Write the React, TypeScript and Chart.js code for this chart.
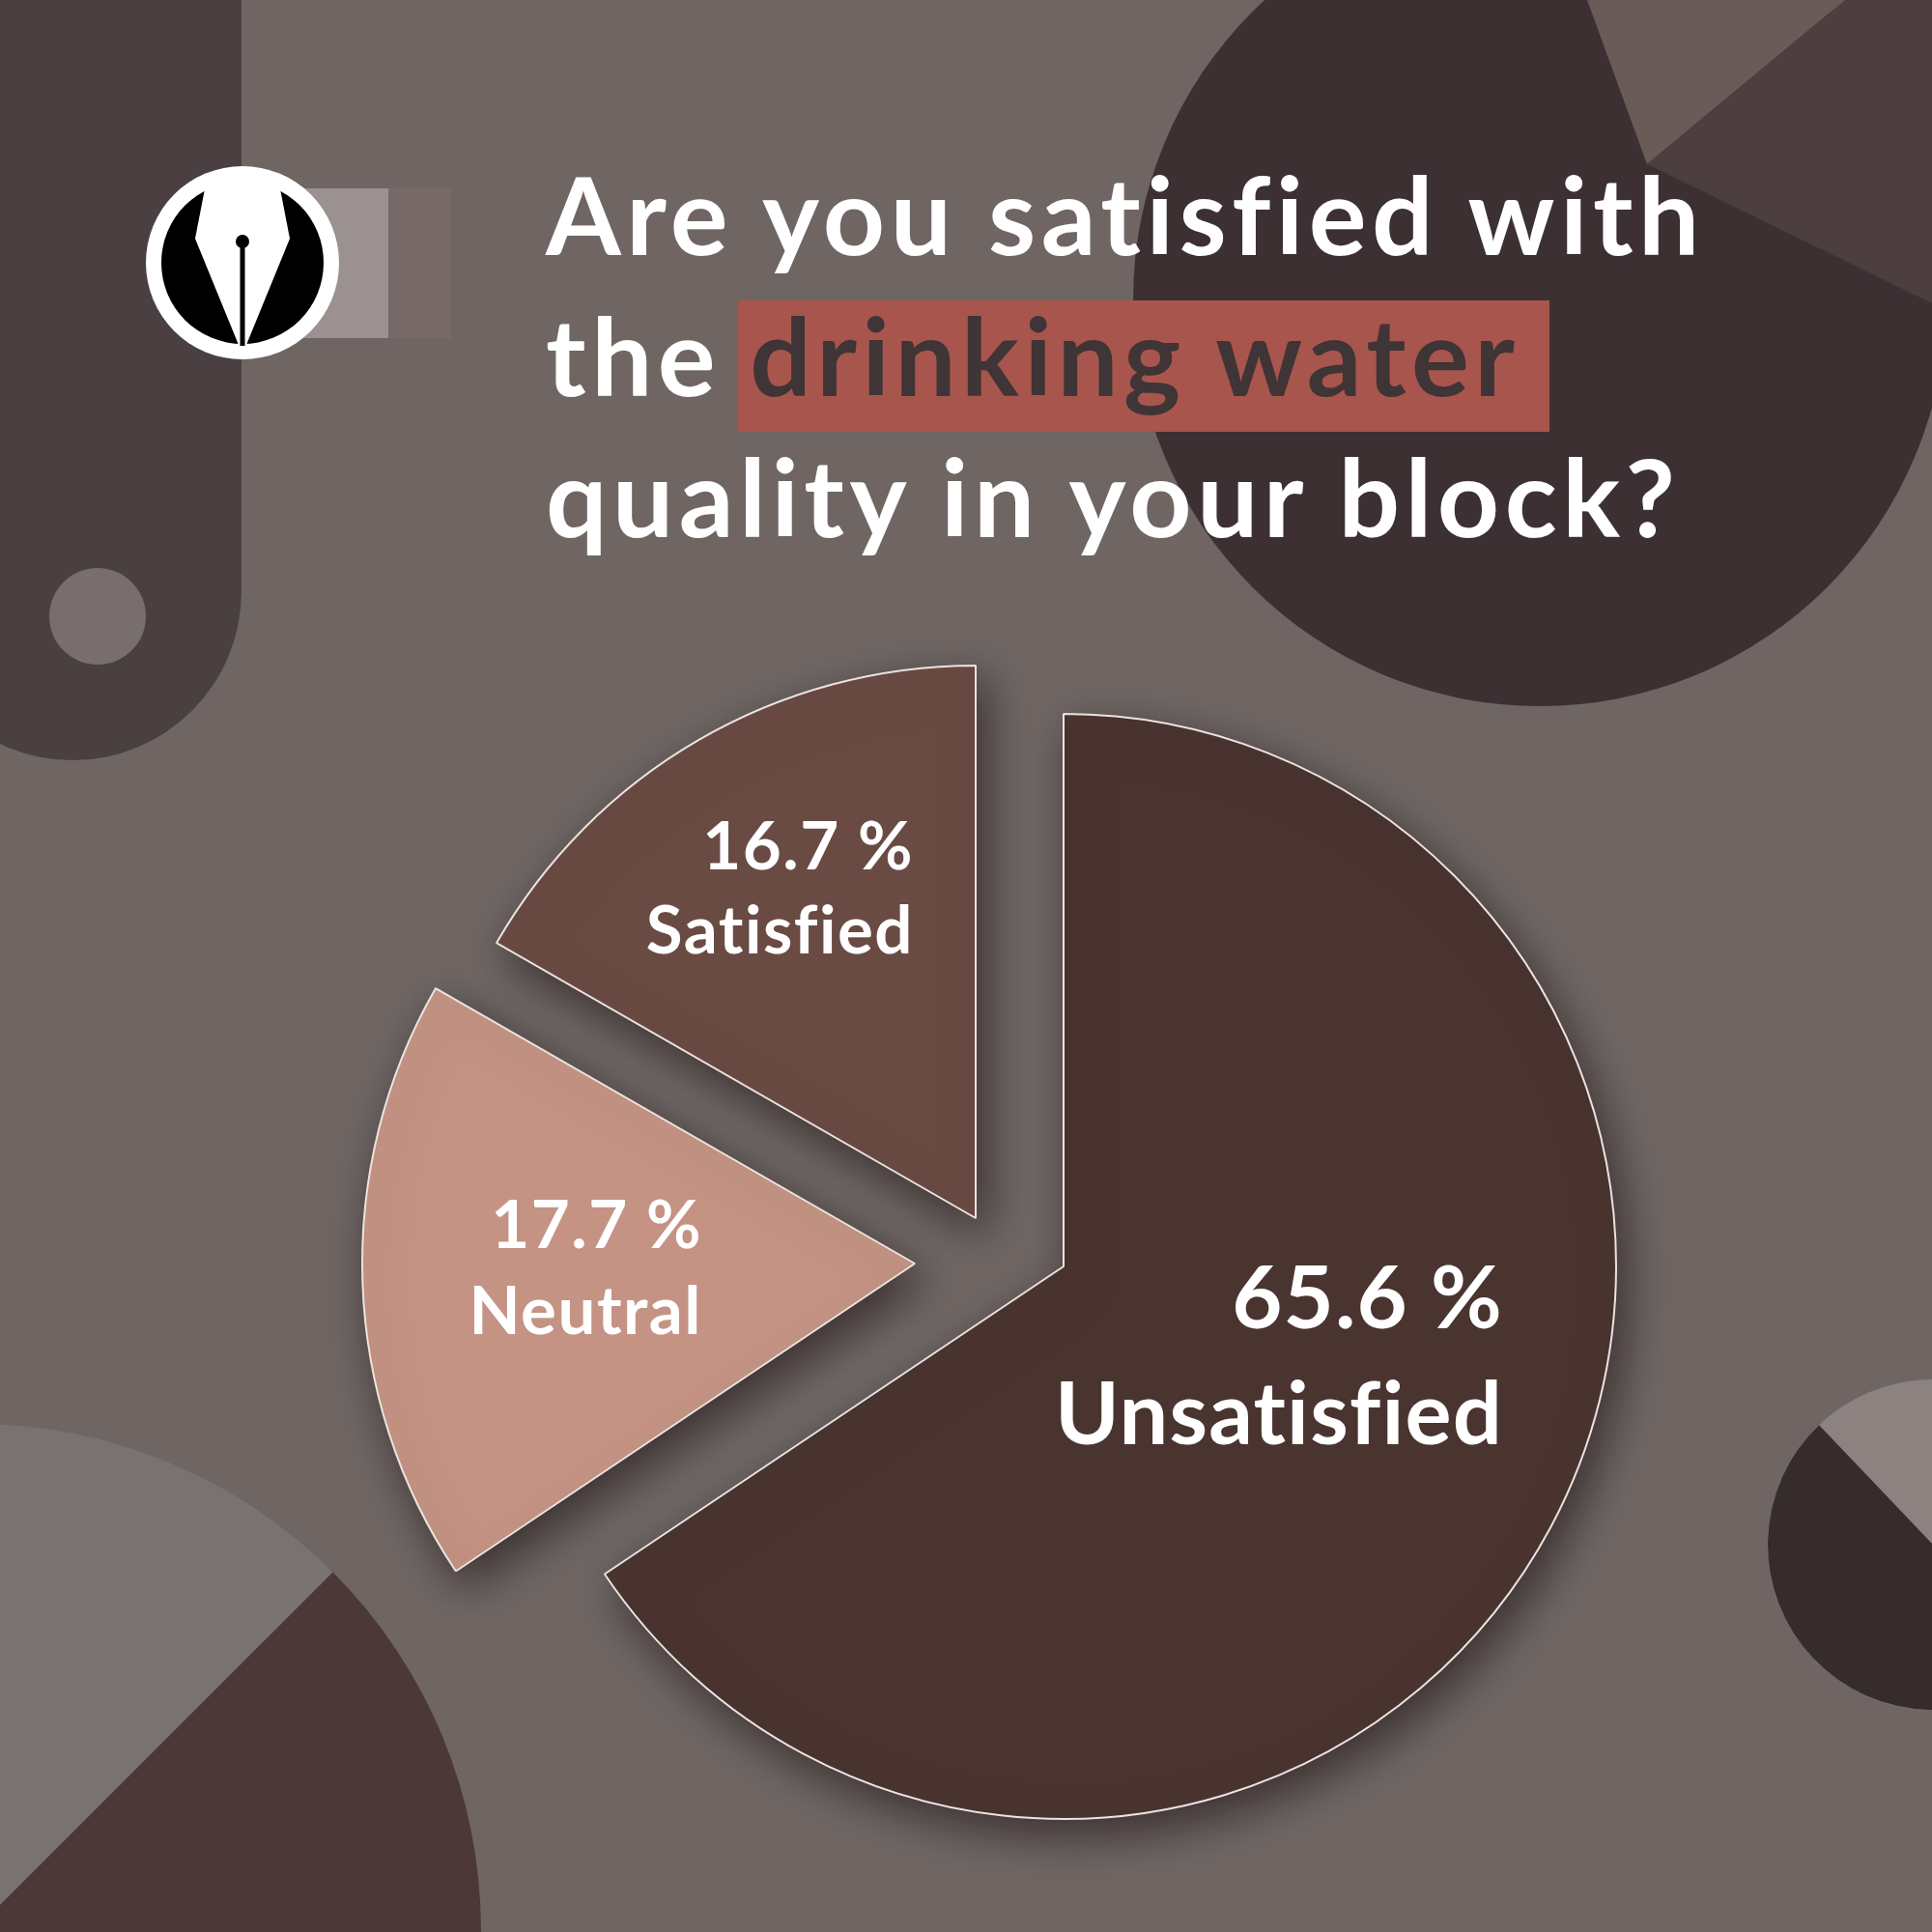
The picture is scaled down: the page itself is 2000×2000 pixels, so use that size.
import React, { useEffect, useRef } from "react";
import { Chart, registerables } from "chart.js";

Chart.register(...registerables);

// ---- data ----
const categories = ["Unsatisfied", "Neutral", "Satisfied"];
const shares = [65.6, 17.7, 16.7];
const sliceColors = ["#4a3430", "#c49384", "#6a4b44"];
const titleLine1 = "Are you satisfied with";
const titleLine2a = "the";
const titleLine2b = "drinking water";
const titleLine3 = "quality in your block?";

// ---- layout (pixels) ----
const PIE_RADIUS = 572;
const SLICE_SHIFT: number[][] = [
  [81, 21],
  [-73, 18],
  [-10, -29],
];
const LABEL_LAYOUT = [
  { dx: 455, dy1: 64, dy2: 184, size: 90, spacing: 1.2 },
  { dx: -220, dy1: -16, dy2: 73, size: 69, spacing: 1.5 },
  { dx: -64, dy1: -361, dy2: -274, size: 69, spacing: 1.5 },
];
const FONT = "Lato, 'Noto Sans', sans-serif";

const explodePlugin = {
  id: "explodeSlices",
  afterDatasetUpdate(chart: any) {
    const meta = chart.getDatasetMeta(0);
    meta.data.forEach((arc: any, i: number) => {
      arc.x += SLICE_SHIFT[i][0];
      arc.y += SLICE_SHIFT[i][1];
    });
  },
  beforeDatasetsDraw(chart: any) {
    const ctx = chart.ctx;
    ctx.save();
    ctx.shadowColor = "rgba(20,10,10,0.55)";
    ctx.shadowBlur = 45;
    ctx.shadowOffsetX = 10;
    ctx.shadowOffsetY = 16;
  },
  afterDatasetsDraw(chart: any) {
    const ctx = chart.ctx;
    ctx.restore();
    const meta = chart.getDatasetMeta(0);
    ctx.save();
    ctx.fillStyle = "#ffffff";
    ctx.textAlign = "right";
    ctx.textBaseline = "alphabetic";
    meta.data.forEach((arc: any, i: number) => {
      const L = LABEL_LAYOUT[i];
      ctx.font = `700 ${L.size}px ${FONT}`;
      (ctx as any).letterSpacing = `${L.spacing}px`;
      ctx.fillText(`${shares[i].toFixed(1)} %`, arc.x + L.dx, arc.y + L.dy1);
      ctx.fillText(categories[i], arc.x + L.dx, arc.y + L.dy2);
    });
    ctx.restore();
  },
};

function Decor() {
  const c1 = { x: -26, y: 1998, r: 524 };
  const c2 = { x: 2001, y: 1599, r: 171 };
  const pt = (c: any, deg: number) => {
    const a = (deg * Math.PI) / 180;
    return `${c.x + c.r * Math.cos(a)} ${c.y + c.r * Math.sin(a)}`;
  };
  return (
    <svg width={2000} height={2000} style={{ position: "absolute", left: 0, top: 0 }}>
      <rect x={0} y={0} width={2000} height={2000} fill="#6f6664" />
      <rect x={-100} y={-300} width={350} height={1087} rx={175} ry={175} fill="#4a4042" />
      <circle cx={101} cy={638} r={50} fill="#786e6d" />
      <circle cx={1594} cy={310} r={421} fill="#3c3033" />
      <polygon points="1643,0 1705,170 1910,0" fill="#6a5a58" />
      <polygon points="1910,0 1705,170 2000,314 2000,0" fill="#4d3e40" />
      <circle cx={c1.x} cy={c1.y} r={c1.r} fill="#7a7270" />
      <path d={`M ${pt(c1, -45)} A ${c1.r} ${c1.r} 0 0 1 ${pt(c1, 135)} Z`} fill="#4c3937" />
      <circle cx={c2.x} cy={c2.y} r={c2.r} fill="#8c8280" />
      <path d={`M ${pt(c2, 46.4)} A ${c2.r} ${c2.r} 0 0 1 ${pt(c2, 226.4)} Z`} fill="#362b2d" />
    </svg>
  );
}

function Logo() {
  return (
    <svg width={2000} height={500} style={{ position: "absolute", left: 0, top: 0 }}>
      <rect x={251} y={195} width={151} height={155} fill="#9a9190" />
      <rect x={402} y={195} width={65} height={155} fill="#776a68" />
      <circle cx={251} cy={272} r={100} fill="#ffffff" />
      <circle cx={251} cy={272} r={84} fill="#000000" />
      <polygon points="215,180 287,180 300,247 255,357 247,357 202,247" fill="#ffffff" />
      <circle cx={251} cy={250} r={7} fill="#000000" />
      <rect x={248.5} y={250} width={5} height={108} fill="#000000" />
    </svg>
  );
}

export default function App() {
  const canvasRef = useRef<HTMLCanvasElement | null>(null);

  useEffect(() => {
    if (!canvasRef.current) return;
    const chart = new Chart(canvasRef.current, {
      type: "pie",
      data: {
        labels: categories,
        datasets: [
          {
            data: shares,
            backgroundColor: sliceColors,
            borderColor: "#ebe3e0",
            borderWidth: 2,
            radius: PIE_RADIUS,
          } as any,
        ],
      },
      options: {
        animation: false,
        responsive: false,
        devicePixelRatio: 1,
        radius: PIE_RADIUS,
        layout: { padding: { left: 420, right: 380, top: 690, bottom: 110 } },
        plugins: { legend: { display: false }, tooltip: { enabled: false }, title: { display: false } },
      } as any,
      plugins: [explodePlugin as any],
    });
    return () => chart.destroy();
  }, []);

  const lineStyle: React.CSSProperties = {
    position: "absolute",
    left: 565,
    whiteSpace: "nowrap",
    fontFamily: FONT,
    fontWeight: 700,
    fontSize: 112,
    lineHeight: "146px",
    letterSpacing: "5.5px",
    color: "#ffffff",
  };

  return (
    <div style={{ position: "absolute", left: 0, top: 0, width: 2000, height: 2000, overflow: "hidden", background: "#6f6664" }}>
      <Decor />
      <canvas ref={canvasRef} width={2000} height={2000} style={{ position: "absolute", left: 0, top: 0, width: 2000, height: 2000 }} />
      <Logo />
      <div style={{ ...lineStyle, top: 148 }}>{titleLine1}</div>
      <div style={{ ...lineStyle, top: 294 }}>
        {titleLine2a}
        <span style={{ display: "inline-block", marginLeft: 18, lineHeight: "112px", paddingBottom: 24, paddingLeft: 12, paddingRight: 30, background: "#a8554d", color: "#3f3436" }}>
          {titleLine2b}
        </span>
      </div>
      <div style={{ ...lineStyle, top: 440 }}>{titleLine3}</div>
    </div>
  );
}
